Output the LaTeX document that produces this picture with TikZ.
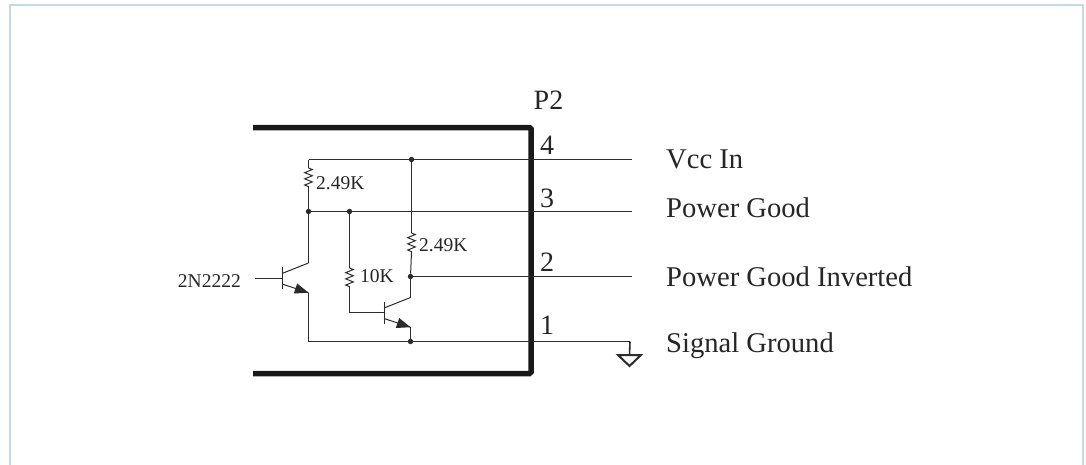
\documentclass[tikz,border=0pt]{standalone}
\usepackage{fontspec}
\setmainfont{Liberation Serif}
\usetikzlibrary{decorations.pathmorphing}

\definecolor{wirecol}{HTML}{2B2B2B}
\definecolor{framecol}{HTML}{C9D8DE}

\begin{document}
\begin{tikzpicture}[x=1pt,y=-1pt,
wire/.style = {draw=wirecol, line width=1pt},
res/.style = {decoration={zigzag,segment length=6.2pt,amplitude=3.8pt}, decorate},
conn/.style = {draw=black!90, line width=5.5pt, rounded corners=1.5pt},
dotnode/.style = {circle, fill=wirecol, inner sep=0pt, minimum size=5.4pt},
big/.style = {font=\fontsize{28}{28}\selectfont, text=black!85, inner sep=0pt},
mid/.style = {font=\fontsize{28.6}{28.6}\selectfont, text=black!85, inner sep=0pt},
small/.style = {font=\fontsize{19.5}{19.5}\selectfont, text=black!85, inner sep=0pt},
bjt/.pic = {
	\coordinate (-b) at (0,0);
	\coordinate (-c) at (26.5,-15);
	\coordinate (-e) at (26.5,14.7);
	\draw[wire] (0,-11) -- (0,11);
	\draw[wire] (0,-4.5) -- (-c);
	\draw[wire] (0,6) -- (-e);
	\fill[wirecol] (15.2,5.5) -- (11.8,15.5) -- (-e) -- cycle;
}]
\useasboundingbox (0,0) rectangle (1086,464);

% frame
\draw[framecol, line width=2pt] (10,470) -- (10,4.5) -- (1083,4.5) -- (1083,470);

% connector outline
\coordinate (boxa) at (253,127.5);
\coordinate (boxb) at (531,127.5);
\coordinate (boxc) at (531,373.5);
\coordinate (boxd) at (253,373.5);
\draw[conn] (boxa) -- (boxb) -- (boxc) -- (boxd);

% pins
\coordinate (pin4) at (632,159.5);
\coordinate (pin3) at (632,211.5);
\coordinate (pin2) at (632,276.5);
\coordinate (pin1) at (630,341.5);

% junctions
\node[dotnode] (ja) at (411.5,159.5) {};
\node[dotnode] (jb) at (308.5,211.5) {};
\node[dotnode] (jc) at (349.5,211.5) {};
\node[dotnode] (jd) at (410.5,276.5) {};
\node[dotnode] (je) at (410.5,341.5) {};
\coordinate (topl) at (308.5,159.5);
\coordinate (botl) at (308.5,341.5);

% transistors
\pic (qa) at (282,278) {bjt};
\pic (qb) at (384,312.5) {bjt};
\coordinate (qain) at (255,278);
\coordinate (cnr) at (349.5,312.5);
\node[small, anchor=east] (lqa) at (241,281.5) {2N2222};

% resistors
\coordinate (raa) at (308.5,168);
\coordinate (rab) at (308.5,187);
\coordinate (rba) at (411.5,233);
\coordinate (rbb) at (411.5,252);
\coordinate (rca) at (349.5,268);
\coordinate (rcb) at (349.5,287);
\draw[wire, res] (raa) -- (rab);
\draw[wire, res] (rba) -- (rbb);
\draw[wire, res] (rca) -- (rcb);
\node[small, anchor=west] (lra) at (316,183) {2.49K};
\node[small, anchor=west] (lrb) at (419,245) {2.49K};
\node[small, anchor=west] (lrc) at (360,276) {10K};

% wiring
\draw[wire] (topl) -- (pin4);
\draw[wire] (jb) -- (pin3);
\draw[wire] (jd) -- (pin2);
\draw[wire] (botl) -- (pin1);
\draw[wire] (topl) -- (raa);
\draw[wire] (rab) -- (jb);
\draw[wire] (jb) -- (qa-c);
\draw[wire] (qa-e) -- (botl);
\draw[wire] (qain) -- (qa-b);
\draw[wire] (ja) -- (rba);
\draw[wire] (rbb) -- (jd);
\draw[wire] (jd) -- (qb-c);
\draw[wire] (qb-e) -- (je);
\draw[wire] (jc) -- (rca);
\draw[wire] (rcb) -- (cnr);
\draw[wire] (cnr) -- (qb-b);

% ground
\coordinate (gnd) at (629.5,355);
\draw[wire, line width=1.6pt] (pin1) -- (gnd);
\draw[draw=wirecol, line width=2pt, line join=miter] (618,355) -- (641,355) -- (629.5,366) -- cycle;

% labels
\node[big] (lp) at (548.5,100) {P2};
\node[big] (lfour) at (547,145) {4};
\node[big] (lthree) at (547,198) {3};
\node[big] (ltwo) at (547,262) {2};
\node[big] (lone) at (547,325) {1};
\node[mid, anchor=base west] (lvcc) at (666,168) {Vcc In};
\node[mid, anchor=base west] (lpg) at (666,217) {Power Good};
\node[mid, anchor=base west] (lpgi) at (666,286) {Power Good Inverted};
\node[mid, anchor=base west] (lsg) at (666,352) {Signal Ground};
\end{tikzpicture}
\end{document}
